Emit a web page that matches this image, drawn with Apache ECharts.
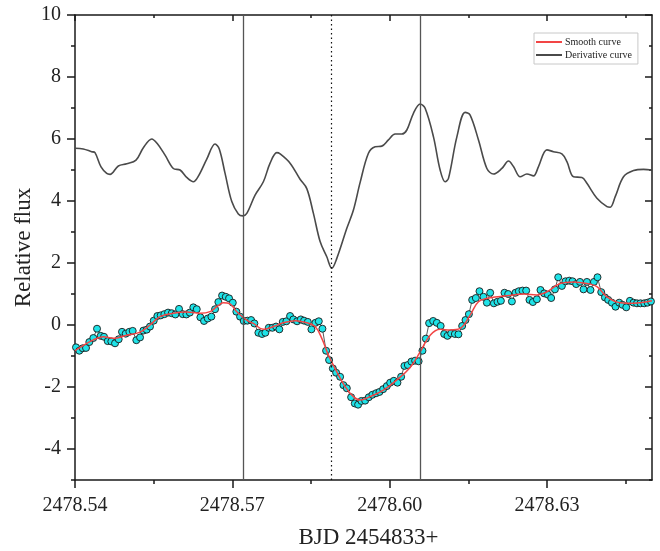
<!DOCTYPE html>
<html>
<head>
<meta charset="utf-8">
<script src="https://cdn.jsdelivr.net/npm/echarts@6/dist/echarts.min.js"></script>
<style>
  html, body { margin: 0; padding: 0; background: #ffffff; }
  #chart { width: 660px; height: 551px; }
</style>
</head>
<body>
<div id="chart"></div>
<script>
// Observation times (BJD - 2454833) of the short-cadence light curve
const time = [
  2478.54019, 2478.54082, 2478.54147, 2478.54210, 2478.54273, 2478.54349, 2478.54420, 2478.54490,
  2478.54553, 2478.54624, 2478.54692, 2478.54763, 2478.54833, 2478.54896, 2478.54967, 2478.55036,
  2478.55100, 2478.55169, 2478.55240, 2478.55303, 2478.55367, 2478.55430, 2478.55501, 2478.55570,
  2478.55634, 2478.55703, 2478.55774, 2478.55844, 2478.55913, 2478.55983, 2478.56054, 2478.56123,
  2478.56189, 2478.56256, 2478.56321, 2478.56390, 2478.56460, 2478.56531, 2478.56600, 2478.56670,
  2478.56733, 2478.56804, 2478.56874, 2478.56937, 2478.57008, 2478.57076, 2478.57147, 2478.57217,
  2478.57286, 2478.57357, 2478.57420, 2478.57496, 2478.57566, 2478.57629, 2478.57694, 2478.57763,
  2478.57833, 2478.57896, 2478.57961, 2478.58030, 2478.58100, 2478.58163, 2478.58234, 2478.58305,
  2478.58367, 2478.58438, 2478.58507, 2478.58583, 2478.58648, 2478.58717, 2478.58787, 2478.58844,
  2478.58915, 2478.58978, 2478.59054, 2478.59117, 2478.59182, 2478.59264, 2478.59334, 2478.59397,
  2478.59460, 2478.59531, 2478.59601, 2478.59670, 2478.59741, 2478.59804, 2478.59874, 2478.59945,
  2478.60008, 2478.60078, 2478.60147, 2478.60217, 2478.60280, 2478.60345, 2478.60414, 2478.60484,
  2478.60551, 2478.60624, 2478.60689, 2478.60751, 2478.60828, 2478.60898, 2478.60971, 2478.61038,
  2478.61101, 2478.61171, 2478.61242, 2478.61310, 2478.61381, 2478.61444, 2478.61509, 2478.61572,
  2478.61642, 2478.61711, 2478.61787, 2478.61852, 2478.61915, 2478.61985, 2478.62054, 2478.62119,
  2478.62188, 2478.62258, 2478.62329, 2478.62397, 2478.62462, 2478.62531, 2478.62601, 2478.62664,
  2478.62729, 2478.62805, 2478.62874, 2478.62945, 2478.63015, 2478.63078, 2478.63149, 2478.63212,
  2478.63282, 2478.63351, 2478.63422, 2478.63485, 2478.63555, 2478.63626, 2478.63694, 2478.63759,
  2478.63828, 2478.63893, 2478.63961, 2478.64032, 2478.64102, 2478.64165, 2478.64236, 2478.64305,
  2478.64375, 2478.64438, 2478.64509, 2478.64579, 2478.64648, 2478.64713, 2478.64781, 2478.64852,
  2478.64915, 2478.64980
];

// Relative flux of each observation
const flux = [
  -0.72, -0.83, -0.75, -0.74, -0.55, -0.42, -0.12, -0.35,
  -0.38, -0.52, -0.53, -0.59, -0.46, -0.22, -0.28, -0.22,
  -0.19, -0.49, -0.40, -0.18, -0.15, -0.05, 0.14, 0.29,
  0.31, 0.35, 0.40, 0.38, 0.34, 0.52, 0.35, 0.34,
  0.40, 0.57, 0.51, 0.25, 0.13, 0.21, 0.27, 0.51,
  0.74, 0.95, 0.91, 0.86, 0.72, 0.43, 0.27, 0.13,
  0.14, 0.16, 0.05, -0.25, -0.29, -0.25, -0.09, -0.09,
  -0.05, -0.14, 0.10, 0.12, 0.29, 0.18, 0.12, 0.18,
  0.14, 0.10, -0.14, 0.07, 0.12, -0.12, -0.83, -1.13,
  -1.40, -1.54, -1.67, -1.94, -2.04, -2.33, -2.53, -2.57,
  -2.45, -2.44, -2.33, -2.25, -2.20, -2.16, -2.07, -1.97,
  -1.86, -1.80, -1.86, -1.67, -1.32, -1.29, -1.18, -1.15,
  -1.17, -0.83, -0.44, 0.06, 0.13, 0.07, -0.03, -0.29,
  -0.35, -0.27, -0.29, -0.30, -0.03, 0.16, 0.35, 0.81,
  0.87, 1.09, 0.91, 0.72, 1.04, 0.70, 0.75, 0.78,
  1.04, 1.00, 0.76, 1.04, 1.09, 1.11, 1.11, 0.81,
  0.74, 0.83, 1.13, 1.02, 0.98, 0.87, 1.15, 1.54,
  1.26, 1.41, 1.43, 1.41, 1.32, 1.39, 1.15, 1.39,
  1.13, 1.39, 1.54, 1.06, 0.89, 0.81, 0.72, 0.59,
  0.72, 0.65, 0.57, 0.78, 0.72, 0.70, 0.70, 0.70,
  0.72, 0.76
];

// Smoothed light curve
const smoothTime = [
  2478.54000, 2478.54349, 2478.54540, 2478.54730, 2478.54986, 2478.55240, 2478.55430, 2478.55621,
  2478.55875, 2478.56130, 2478.56384, 2478.56575, 2478.56702, 2478.56828, 2478.56956, 2478.57084,
  2478.57275, 2478.57401, 2478.57591, 2478.57782, 2478.57973, 2478.58196, 2478.58419, 2478.58577,
  2478.58705, 2478.58831, 2478.58991, 2478.59149, 2478.59308, 2478.59436, 2478.59626, 2478.59880,
  2478.60136, 2478.60389, 2478.60580, 2478.60771, 2478.60962, 2478.61152, 2478.61343, 2478.61533,
  2478.61692, 2478.61915, 2478.62233, 2478.62550, 2478.62805, 2478.62996, 2478.63250, 2478.63504,
  2478.63759, 2478.63950, 2478.64141, 2478.64394, 2478.64648, 2478.65000
];
const smoothFlux = [
  -0.83, -0.48, -0.38, -0.43, -0.33, -0.23, 0.00, 0.27,
  0.38, 0.42, 0.38, 0.43, 0.59, 0.72, 0.68, 0.43,
  0.16, 0.05, -0.14, -0.05, 0.07, 0.14, 0.07, -0.05,
  -0.43, -0.97, -1.51, -1.99, -2.31, -2.42, -2.31, -2.10,
  -1.77, -1.37, -0.87, -0.33, -0.14, -0.16, -0.11, 0.32,
  0.75, 0.88, 0.94, 1.00, 0.97, 1.07, 1.34, 1.39,
  1.34, 1.24, 0.91, 0.72, 0.70, 0.78
];

// Derivative of the smoothed curve (offset upward for display)
const derivTime = [
  2478.54000, 2478.54158, 2478.54318, 2478.54381, 2478.54496, 2478.54605, 2478.54668, 2478.54826,
  2478.54986, 2478.55163, 2478.55303, 2478.55463, 2478.55564, 2478.55717, 2478.55875, 2478.56003,
  2478.56130, 2478.56256, 2478.56352, 2478.56512, 2478.56670, 2478.56752, 2478.56861, 2478.56989,
  2478.57114, 2478.57198, 2478.57275, 2478.57433, 2478.57591, 2478.57719, 2478.57847, 2478.57910,
  2478.58100, 2478.58291, 2478.58419, 2478.58545, 2478.58673, 2478.58800, 2478.58896, 2478.58991,
  2478.59182, 2478.59308, 2478.59436, 2478.59594, 2478.59722, 2478.59849, 2478.59975, 2478.60103,
  2478.60231, 2478.60326, 2478.60452, 2478.60580, 2478.60675, 2478.60834, 2478.60961, 2478.61057,
  2478.61120, 2478.61280, 2478.61438, 2478.61533, 2478.61692, 2478.61852, 2478.61978, 2478.62138,
  2478.62264, 2478.62359, 2478.62487, 2478.62615, 2478.62741, 2478.62836, 2478.62996, 2478.63122,
  2478.63282, 2478.63378, 2478.63504, 2478.63664, 2478.63759, 2478.63950, 2478.64141, 2478.64204,
  2478.64299, 2478.64457, 2478.64648, 2478.64839, 2478.65000
];
const derivValue = [
  5.70, 5.68, 5.59, 5.56, 5.10, 4.89, 4.86, 5.13,
  5.20, 5.32, 5.72, 6.00, 5.86, 5.48, 5.05, 5.00,
  4.76, 4.62, 4.80, 5.35, 5.84, 5.67, 4.89, 3.98,
  3.58, 3.52, 3.60, 4.19, 4.62, 5.22, 5.56, 5.52,
  5.22, 4.70, 4.40, 3.60, 2.69, 2.20, 1.83, 2.15,
  3.12, 3.71, 4.60, 5.54, 5.75, 5.77, 5.97, 6.16,
  6.16, 6.29, 6.83, 7.13, 6.99, 6.07, 5.00, 4.62,
  4.73, 6.07, 6.86, 6.77, 5.97, 5.05, 4.87, 5.05,
  5.29, 5.11, 4.78, 4.87, 4.81, 5.11, 5.65, 5.59,
  5.52, 5.27, 4.78, 4.76, 4.57, 4.09, 3.82, 3.80,
  4.14, 4.78, 4.98, 5.02, 5.00
];

// Reference epochs: extrema of the derivative and the flux minimum
const solidMarkers = [2478.5720, 2478.6058];
const dottedMarkers = [2478.5889];

// Axis ranges and tick positions
const xRange = [2478.54, 2478.65];
const yRange = [-5, 10];
const xMajorTicks = [2478.54, 2478.57, 2478.60, 2478.63];
const xMinorTicks = [2478.555, 2478.585, 2478.615, 2478.645];
const yMajorTicks = [-4, -2, 0, 2, 4, 6, 8, 10];
const yMinorTicks = [-5, -3, -1, 1, 3, 5, 7, 9];

const FONT = "'Liberation Serif', 'Times New Roman', serif";
const INK = '#1a1a1a';

const zip = (xs, ys) => xs.map((x, i) => [x, ys[i]]);

function frameAxis(kind, position, ticks, length, inside, withLine) {
  const range = kind === 'x' ? xRange : yRange;
  return {
    type: 'value',
    position: position,
    min: range[0],
    max: range[1],
    axisLine: { show: withLine, onZero: false, lineStyle: { color: INK, width: 1.5 } },
    axisTick: { show: true, inside: inside, length: length, customValues: ticks,
                lineStyle: { color: INK, width: 1.5 } },
    axisLabel: { show: false },
    splitLine: { show: false },
    minorTick: { show: false }
  };
}

const xMain = frameAxis('x', 'bottom', xMajorTicks, 8, false, true);
xMain.axisLabel = {
  show: true, customValues: xMajorTicks, margin: 16,
  formatter: v => v.toFixed(2),
  fontFamily: FONT, fontSize: 20, color: '#222'
};
xMain.name = 'BJD 2454833+';
xMain.nameLocation = 'middle';
xMain.nameGap = 46;
xMain.nameTextStyle = { fontFamily: FONT, fontSize: 23, color: '#222', padding: [0, 0, 0, 10] };

const yMain = frameAxis('y', 'left', yMajorTicks, 8, false, true);
yMain.axisLabel = {
  show: true, customValues: yMajorTicks, margin: 14,
  formatter: v => String(v),
  fontFamily: FONT, fontSize: 20, color: '#222'
};
yMain.name = 'Relative flux';
yMain.nameLocation = 'middle';
yMain.nameGap = 40;
yMain.nameMoveOverlap = false;
yMain.nameTextStyle = { fontFamily: FONT, fontSize: 23, color: '#222' };

const option = {
  animation: false,
  backgroundColor: '#ffffff',
  grid: { left: 75, right: 8, top: 15, bottom: 71, containLabel: false, outerBoundsMode: 'none' },
  legend: {
    orient: 'vertical',
    left: 534, top: 33,
    padding: [4, 6, 4, 2],
    itemGap: 3,
    itemWidth: 26,
    itemHeight: 2,
    borderColor: '#c8c8c8',
    borderWidth: 1,
    backgroundColor: '#ffffff',
    data: [
      { name: 'Smooth curve', icon: 'rect' },
      { name: 'Derivative curve', icon: 'rect' }
    ],
    textStyle: { fontFamily: FONT, fontSize: 10, color: '#222', padding: [0, 0, 0, -2] }
  },
  xAxis: [
    xMain,
    frameAxis('x', 'bottom', xMinorTicks, 4, false, false),
    frameAxis('x', 'top', xMajorTicks, 6, true, true),
    frameAxis('x', 'top', xMinorTicks, 3, true, false)
  ],
  yAxis: [
    yMain,
    frameAxis('y', 'left', yMinorTicks, 4, false, false),
    frameAxis('y', 'right', yMajorTicks, 7, true, true),
    frameAxis('y', 'right', yMinorTicks, 3, true, false)
  ],
  series: [
    {
      name: 'Markers',
      type: 'line',
      data: [],
      z: 1,
      markLine: {
        silent: true,
        precision: 6,
        symbol: ['none', 'none'],
        label: { show: false },
        animation: false,
        data: solidMarkers.map(v => ({ xAxis: v, lineStyle: { color: '#555', width: 1.3, type: 'solid' } }))
          .concat(dottedMarkers.map(v => ({ xAxis: v, lineStyle: { color: '#111', width: 1.2, type: [1.5, 3] } })))
      }
    },
    {
      name: 'Derivative curve',
      type: 'line',
      data: zip(derivTime, derivValue),
      symbol: 'none',
      smooth: 0.35,
      z: 2,
      color: '#4a4a4a',
      lineStyle: { color: '#4a4a4a', width: 1.6 }
    },
    {
      name: 'Data',
      type: 'line',
      data: zip(time, flux),
      symbol: 'circle',
      symbolSize: 7,
      showSymbol: true,
      showAllSymbol: true,
      z: 3,
      lineStyle: { color: '#111', width: 0.7 },
      itemStyle: { color: '#1fe3e8', borderColor: '#1a1a1a', borderWidth: 0.9 }
    },
    {
      name: 'Smooth curve',
      type: 'line',
      data: zip(smoothTime, smoothFlux),
      symbol: 'none',
      smooth: 0.4,
      z: 4,
      color: '#f24545',
      lineStyle: { color: '#f24545', width: 1.5 }
    }
  ]
};

const chart = echarts.init(document.getElementById('chart'), null, { renderer: 'canvas' });
chart.setOption(option);
</script>
</body>
</html>
